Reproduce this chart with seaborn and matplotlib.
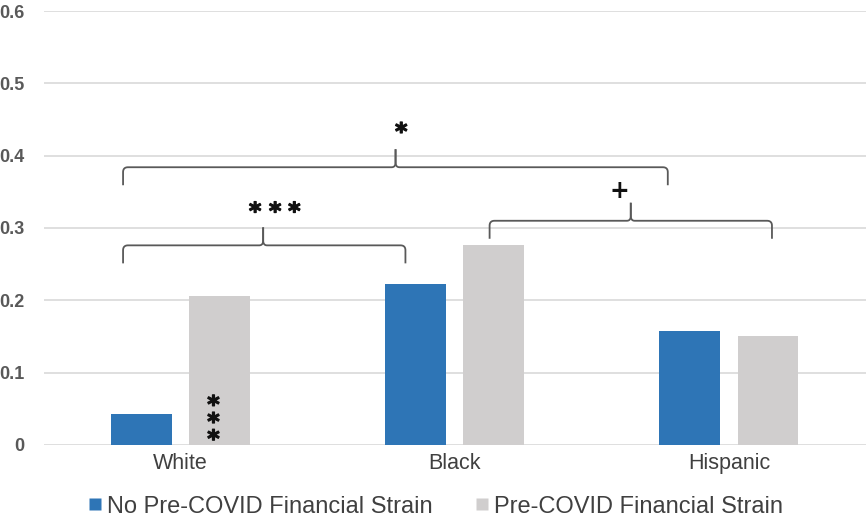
import numpy as np
import pandas as pd
import seaborn as sns
import matplotlib
matplotlib.use("Agg")
import matplotlib.pyplot as plt
import matplotlib.patheffects as pe
from matplotlib.lines import Line2D

# Group means by race/ethnicity and pre-COVID financial strain
groups = ["White", "Black", "Hispanic"]
series = ["No Pre-COVID Financial Strain", "Pre-COVID Financial Strain"]
no_strain = [0.043, 0.223, 0.158]
strain = [0.206, 0.277, 0.151]
y_ticks = [0, 0.1, 0.2, 0.3, 0.4, 0.5, 0.6]
y_tick_labels = ["0", "0.1", "0.2", "0.3", "0.4", "0.5", "0.6"]

colors = {series[0]: "#2E75B6", series[1]: "#D0CECE"}

df = pd.DataFrame({
    "group": groups * 2,
    "series": [series[0]] * 3 + [series[1]] * 3,
    "value": no_strain + strain,
})

sns.set_theme(style="white")
plt.rcParams["font.family"] = ["Liberation Sans", "DejaVu Sans"]

W, H, DPI = 866, 519, 100
fig = plt.figure(figsize=(W / DPI, H / DPI), dpi=DPI)
ax = fig.add_axes([0.0503, 0.1426, 0.9497, 0.8362])

sns.barplot(data=df, x="group", y="value", hue="series", order=groups,
            hue_order=series, palette=colors, width=0.57, gap=0.22,
            saturation=1, ax=ax, legend=False, edgecolor="none")

ax.set_xlim(-0.5, 2.5)
ax.set_ylim(0, 0.6)
ax.set_yticks(y_ticks)
ax.set_yticklabels(y_tick_labels)
ax.set_xlabel("")
ax.set_ylabel("")
ax.grid(axis="y", color="#D9D9D9", linewidth=1.2)
ax.set_axisbelow(True)
for s in ax.spines.values():
    s.set_visible(False)
ax.tick_params(axis="y", length=0, pad=14, labelsize=13, labelcolor="#595959")
ax.tick_params(axis="x", length=0, pad=6, labelsize=15.5, labelcolor="#404040")
for lbl in ax.get_yticklabels():
    lbl.set_fontweight("bold")

fig.canvas.draw()


def _bez(p0, c, p1, n=12):
    t = np.linspace(0, 1, n)[:, None]
    return (1 - t) ** 2 * np.array(p0) + 2 * (1 - t) * t * np.array(c) + t ** 2 * np.array(p1)


def brace(ax, x0, x1, xm, y, depth=18, tip=18, r=5, flare=4):
    """Horizontal curly brace opening downward, with its point at xm."""
    to_px = ax.transData.transform
    (px0, py), = to_px([(x0, y)])
    (px1, _), = to_px([(x1, y)])
    (pxm, _), = to_px([(xm, y)])
    halves = []
    for pe_x, sgn in ((px0, 1), (px1, -1)):
        pts = [np.array([[pe_x, py - depth], [pe_x, py - r]])]
        pts.append(_bez((pe_x, py - r), (pe_x, py), (pe_x + sgn * r, py)))
        pts.append(np.array([[pxm - sgn * flare, py]]))
        pts.append(_bez((pxm - sgn * flare, py), (pxm, py), (pxm, py + flare + 1)))
        pts.append(np.array([[pxm, py + tip]]))
        halves.append(np.vstack(pts))
    inv = ax.transData.inverted().transform
    for seg in halves:
        d = inv(seg)
        ax.plot(d[:, 0], d[:, 1], color="#595959", lw=1.3,
                solid_capstyle="butt", solid_joinstyle="round", clip_on=False)


heavy = [pe.withStroke(linewidth=0.9, foreground="#111111")]
star_kw = dict(fontsize=17, fontweight="bold", color="#111111",
               family="DejaVu Sans", ha="center", va="center", path_effects=heavy)

# White: no strain vs strain
brace(ax, -0.21, 0.82, 0.301, 0.276)
for xs in (0.272, 0.345, 0.415):
    ax.text(xs, 0.322, "*", **star_kw)

# White vs Black, overall
brace(ax, -0.21, 1.777, 0.784, 0.384)
ax.text(0.805, 0.432, "*", **star_kw)

# Black vs Hispanic
brace(ax, 1.127, 2.157, 1.642, 0.310)
ax.text(1.602, 0.351, "+", fontsize=17, fontweight="bold", color="#111111",
        family="DejaVu Sans", ha="center", va="center")

# Stacked stars inside the White strain bar
ax.text(0.12, 0.031, "*\n*\n*", linespacing=0.64, **star_kw)

handles = [Line2D([], [], marker="s", linestyle="none", markersize=8.5,
                  markerfacecolor=colors[s], markeredgecolor="none") for s in series]
fig.legend(handles, series, loc="center", bbox_to_anchor=(0.503, 0.024), ncol=2,
           frameon=False, fontsize=17, handlelength=0.6, handletextpad=0.2,
           columnspacing=1.8, labelcolor="#404040", borderpad=0)

fig.savefig("out.png", dpi=DPI)
